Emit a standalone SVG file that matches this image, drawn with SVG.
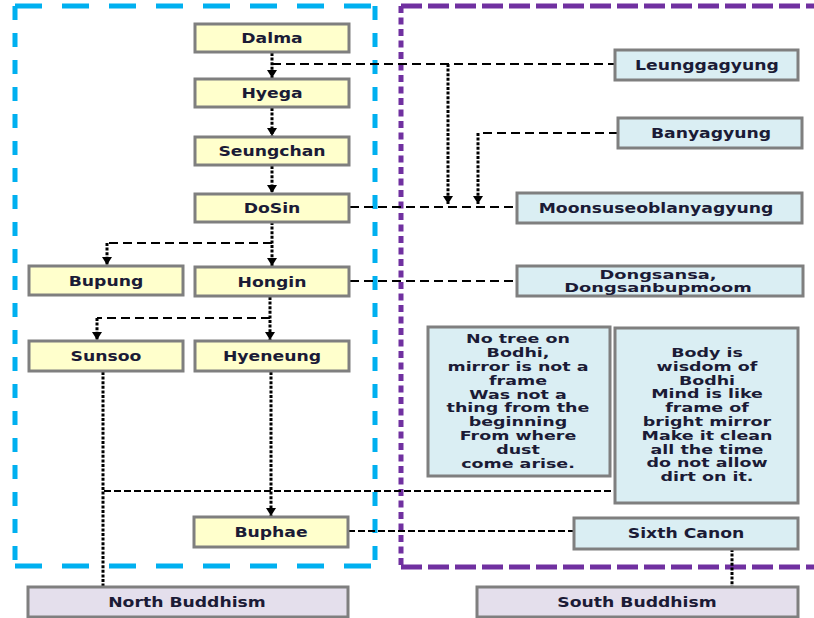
<svg xmlns="http://www.w3.org/2000/svg" width="814" height="618" viewBox="0 0 814 618">
<defs>
<style>
.y{fill:#FFFFCC;stroke:#7F7F7F;stroke-width:3}
.b{fill:#DAEEF3;stroke:#7F7F7F;stroke-width:3}
.p{fill:#E4DFEC;stroke:#7F7F7F;stroke-width:3}
text{font-family:"DejaVu Sans","Verdana",sans-serif;font-weight:bold;font-size:14px;fill:#1B1B36;text-anchor:middle}
.m text{font-size:11.8px}
.d text{font-size:11.5px}
.v{fill:none;stroke:#000;stroke-width:3;stroke-dasharray:3 1.6}
.h{fill:none;stroke:#000;stroke-width:2.2;stroke-dasharray:9 5}
.hs{fill:none;stroke:#000;stroke-width:2.2;stroke-dasharray:7 3}
.bh{stroke:#00B0F0;stroke-width:5;stroke-dasharray:27 20;fill:none}
.bv{stroke:#00B0F0;stroke-width:5;stroke-dasharray:14 13;fill:none}
.ph{stroke:#7030A0;stroke-width:5;stroke-dasharray:21 6;fill:none}
.pv{stroke:#7030A0;stroke-width:5;stroke-dasharray:7 4.5;fill:none}
</style>
<marker id="ar" viewBox="0 0 8 10" refX="8" refY="5" markerWidth="8" markerHeight="10" markerUnits="userSpaceOnUse" orient="auto">
<path d="M0,0 L8,5 L0,10 z" fill="#000"/>
</marker>
</defs>

<g id="regions">
<path class="bh" d="M15,6 H375 M15,566 H375"/>
<path class="bv" d="M15,6 V566 M375,6 V566"/>
<path class="ph" d="M401,6 H814 M401,567 H814"/>
<path class="pv" d="M401,6 V567"/>
</g>

<g id="connectors">
<path class="v" d="M272,53 V78" marker-end="url(#ar)"/>
<path class="h" d="M272,64 H615"/>
<path class="v" d="M448,64 V204" marker-end="url(#ar)"/>
<path class="h" d="M618,133 H478"/>
<path class="v" d="M478,133 V204" marker-end="url(#ar)"/>
<path class="h" d="M350,207 H517"/>
<path class="v" d="M272,108 V136" marker-end="url(#ar)"/>
<path class="v" d="M272,166 V193" marker-end="url(#ar)"/>
<path class="v" d="M272,222 V266" marker-end="url(#ar)"/>
<path class="h" d="M272,243 H107"/>
<path class="v" d="M107,243 V265" marker-end="url(#ar)"/>
<path class="h" d="M350,281 H517"/>
<path class="v" d="M270,297 V340" marker-end="url(#ar)"/>
<path class="h" d="M270,318 H97"/>
<path class="v" d="M97,318 V340" marker-end="url(#ar)"/>
<path class="v" d="M103,372 V587"/>
<path class="v" d="M271,372 V516" marker-end="url(#ar)"/>
<path class="hs" d="M104,491 H615"/>
<path class="hs" d="M348,531 H574"/>
<path class="v" d="M732,549 V587"/>
</g>

<g id="dalma"><rect class="y" x="195" y="24" width="154" height="28"/><text transform="translate(272,43) scale(1.23,1)">Dalma</text></g>
<g id="hyega"><rect class="y" x="195" y="79" width="154" height="28"/><text transform="translate(272,98) scale(1.23,1)">Hyega</text></g>
<g id="seungchan"><rect class="y" x="195" y="137" width="154" height="28"/><text transform="translate(272,156) scale(1.23,1)">Seungchan</text></g>
<g id="dosin"><rect class="y" x="195" y="194" width="154" height="28"/><text transform="translate(272,213) scale(1.23,1)">DoSin</text></g>
<g id="bupung"><rect class="y" x="29" y="266" width="154" height="29"/><text transform="translate(106,286) scale(1.23,1)">Bupung</text></g>
<g id="hongin"><rect class="y" x="195" y="267" width="154" height="29"/><text transform="translate(272,287) scale(1.23,1)">Hongin</text></g>
<g id="sunsoo"><rect class="y" x="29" y="341" width="154" height="30"/><text transform="translate(106,361) scale(1.23,1)">Sunsoo</text></g>
<g id="hyeneung"><rect class="y" x="195" y="341" width="154" height="30"/><text transform="translate(272,361) scale(1.23,1)">Hyeneung</text></g>
<g id="buphae"><rect class="y" x="194" y="517" width="154" height="30"/><text transform="translate(271,537) scale(1.23,1)">Buphae</text></g>

<g id="leunggagyung"><rect class="b" x="615" y="50" width="183" height="30"/><text transform="translate(707,70) scale(1.23,1)">Leunggagyung</text></g>
<g id="banyagyung"><rect class="b" x="618" y="118" width="184" height="30"/><text transform="translate(711,138) scale(1.23,1)">Banyagyung</text></g>
<g id="moonsuseoblanyagyung"><rect class="b" x="517" y="193" width="285" height="30"/><text transform="translate(656,213) scale(1.23,1)">Moonsuseoblanyagyung</text></g>
<g id="dongsansa" class="d"><rect class="b" x="517" y="266" width="286" height="30"/>
<g transform="translate(658,0) scale(1.55,1)"><text x="0" y="279">Dongsansa,</text><text x="0" y="292">Dongsanbupmoom</text></g></g>
<g id="notree" class="m"><rect class="b" x="428" y="327" width="182" height="149"/>
<g transform="translate(518,0) scale(1.48,1)">
<text x="0" y="343.5">No tree on</text>
<text x="0" y="357.3">Bodhi,</text>
<text x="0" y="371.1">mirror is not a</text>
<text x="0" y="384.9">frame</text>
<text x="0" y="398.7">Was not a</text>
<text x="0" y="412.5">thing from the</text>
<text x="0" y="426.3">beginning</text>
<text x="0" y="440.1">From where</text>
<text x="0" y="453.9">dust</text>
<text x="0" y="467.7">come arise.</text>
</g></g>
<g id="body" class="m"><rect class="b" x="615" y="328" width="183" height="175"/>
<g transform="translate(707,0) scale(1.48,1)">
<text x="0" y="357">Body is</text>
<text x="0" y="370.8">wisdom of</text>
<text x="0" y="384.6">Bodhi</text>
<text x="0" y="398.4">Mind is like</text>
<text x="0" y="412.2">frame of</text>
<text x="0" y="426">bright mirror</text>
<text x="0" y="439.8">Make it clean</text>
<text x="0" y="453.6">all the time</text>
<text x="0" y="467.4">do not allow</text>
<text x="0" y="481.2">dirt on it.</text>
</g></g>
<g id="sixthcanon"><rect class="b" x="574" y="518" width="224" height="31"/><text transform="translate(686,538) scale(1.23,1)">Sixth Canon</text></g>

<g id="northbuddhism"><rect class="p" x="28" y="587" width="320" height="30"/><text transform="translate(187,607) scale(1.23,1)">North Buddhism</text></g>
<g id="southbuddhism"><rect class="p" x="477" y="587" width="321" height="30"/><text transform="translate(637,607) scale(1.23,1)">South Buddhism</text></g>
</svg>
